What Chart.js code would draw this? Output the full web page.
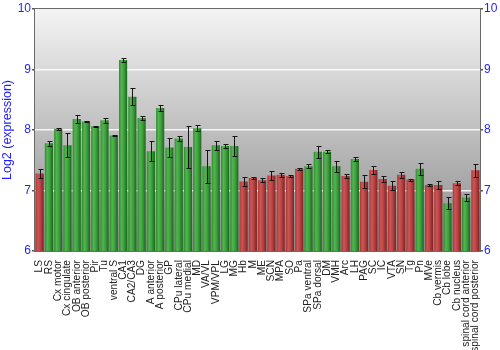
<!DOCTYPE html>
<html>
<head>
<meta charset="utf-8">
<script src="https://cdn.jsdelivr.net/npm/chart.js@4.4.1/dist/chart.umd.min.js"></script>
<style>
  html, body { margin: 0; padding: 0; background: #fff; }
</style>
</head>
<body>
<canvas id="chart" width="500" height="350"></canvas>
<script>
// brain regions, in plot order
const regions = [
  "LS", "RS", "Cx motor", "Cx cingulate", "OB anterior", "OB posterior", "Pir", "Tu",
  "ventral S", "CA1", "CA2/CA3", "DG", "A anterior", "A posterior", "GP", "CPu lateral",
  "CPu medial", "MD", "VA/VL", "VPM/VPL", "LG", "MG", "Hb", "M", "ME", "SCN", "MPA",
  "SO", "Pa", "SPa ventral", "SPa dorsal", "DM", "VMH", "Arc", "LH", "PAG", "SC", "IC",
  "VTA", "SN", "Tg", "Pn", "MVe", "Cb vermis", "Cb lobe", "Cb nucleus",
  "spinal cord anterior", "spinal cord posterior"
];

const expression = [
  7.28, 7.78, 8.02, 7.75, 8.18, 8.14, 8.06, 8.16,
  7.91, 9.155, 8.55, 8.2, 7.65, 8.365, 7.71, 7.86,
  7.72, 8.03, 7.40, 7.75, 7.735, 7.735, 7.15, 7.205, 7.17, 7.25, 7.26,
  7.24, 7.36, 7.40, 7.64, 7.64, 7.40, 7.24, 7.52, 7.145, 7.34, 7.19,
  7.08, 7.26, 7.18, 7.36, 7.09, 7.09, 6.79, 7.12,
  6.885, 7.335
];

const stdErr = [
  0.077, 0.044, 0.02, 0.2, 0.065, 0.015, 0.006, 0.045,
  0.01, 0.035, 0.14, 0.03, 0.16, 0.045, 0.16, 0.045,
  0.35, 0.045, 0.27, 0.075, 0.035, 0.16, 0.08, 0.01, 0.035, 0.075, 0.035,
  0.01, 0.015, 0.035, 0.1, 0.025, 0.09, 0.03, 0.04, 0.105, 0.06, 0.045,
  0.07, 0.05, 0.017, 0.1, 0.01, 0.06, 0.1, 0.035,
  0.06, 0.11
];

// g = green bar, r = red bar
const barKind = [
  "r", "g", "g", "g", "g", "g", "g", "g",
  "g", "g", "g", "g", "g", "g", "g", "g",
  "g", "g", "g", "g", "g", "g", "r", "r", "r", "r", "r",
  "r", "r", "g", "g", "g", "g", "r", "g", "r", "r", "r",
  "r", "r", "r", "g", "r", "r", "g", "r",
  "g", "r"
];

const yTicks = [6, 7, 8, 9, 10];

const shades = {
  g: ["#2f8c2f", "#52b552", "#3da03d", "#1b661b"],
  r: ["#a83636", "#cc5656", "#b84242", "#7c2222"]
};

// grey backdrop inside the plot
const backdrop = {
  id: "backdrop",
  beforeDraw(chart) {
    const { ctx, chartArea: a } = chart;
    ctx.save();
    ctx.fillStyle = "#fff";
    ctx.fillRect(0, 0, chart.width, chart.height);
    const g = ctx.createLinearGradient(0, a.top, 0, a.bottom);
    g.addColorStop(0, "#f4f4f4");
    g.addColorStop(1, "#8a8a8a");
    ctx.fillStyle = g;
    ctx.fillRect(a.left, a.top, a.right - a.left, a.bottom - a.top);
    ctx.restore();
  },
  beforeDatasetsDraw(chart) {
    // cylinder look on each bar
    const ctx = chart.ctx;
    chart.getDatasetMeta(0).data.forEach((bar, i) => {
      const c = shades[barKind[i]];
      const half = bar.width / 2;
      const g = ctx.createLinearGradient(bar.x - half, 0, bar.x + half, 0);
      g.addColorStop(0, c[0]);
      g.addColorStop(0.3, c[1]);
      g.addColorStop(0.6, c[2]);
      g.addColorStop(1, c[3]);
      bar.options.backgroundColor = g;
    });
  },
  afterDatasetsDraw(chart) {
    const { ctx, scales } = chart;
    ctx.save();
    ctx.strokeStyle = "#151515";
    ctx.lineWidth = 1;
    chart.getDatasetMeta(0).data.forEach((bar, i) => {
      const x = Math.round(bar.x) + 0.5;
      const hi = Math.round(scales.y.getPixelForValue(expression[i] + stdErr[i])) + 0.5;
      const lo = Math.round(scales.y.getPixelForValue(expression[i] - stdErr[i])) + 0.5;
      ctx.beginPath();
      ctx.moveTo(x, hi); ctx.lineTo(x, lo);
      ctx.moveTo(x - 2, hi); ctx.lineTo(x + 3, hi);
      ctx.moveTo(x - 2, lo); ctx.lineTo(x + 3, lo);
      ctx.stroke();
    });
    ctx.restore();
  },
  afterDraw(chart) {
    const { ctx, chartArea: a } = chart;
    ctx.save();
    ctx.strokeStyle = "#6a6a6a";
    ctx.lineWidth = 1;
    ctx.strokeRect(Math.round(a.left) - 0.5, Math.round(a.top) - 0.5,
      Math.round(a.right - a.left) + 1, Math.round(a.bottom - a.top) + 1);
    ctx.restore();
  }
};

const blue = "#1f1fff";
const font = "'Liberation Sans', Arial, sans-serif";

const yScale = (pos) => ({
  position: pos,
  min: yTicks[0],
  max: yTicks[yTicks.length - 1],
  afterBuildTicks: (s) => { s.ticks = yTicks.map(v => ({ value: v })); },
  afterFit: (s) => { s.width = pos === "left" ? 35 : 20; },
  border: { display: false },
  grid: {
    drawOnChartArea: pos === "left",
    color: (c) => (c.tick && c.tick.value > 6 && c.tick.value < 10) ? "rgba(255,255,255,0.85)" : "rgba(0,0,0,0)",
    lineWidth: 1.5,
    tickColor: "#555",
    tickLength: 3
  },
  ticks: { color: blue, font: { family: font, size: 12 }, padding: 1 },
  title: pos === "left"
    ? { display: true, text: "Log2 (expression)", color: blue, font: { family: font, size: 12.5 }, padding: 0 }
    : { display: false }
});

new Chart(document.getElementById("chart"), {
  type: "bar",
  data: {
    labels: regions,
    datasets: [{
      data: expression,
      backgroundColor: barKind.map(k => shades[k][2]),
      borderWidth: 0,
      barPercentage: 0.88,
      categoryPercentage: 1
    }]
  },
  options: {
    responsive: false,
    animation: false,
    layout: { padding: { top: 9, left: 0, right: 0, bottom: 0 } },
    plugins: { legend: { display: false }, tooltip: { enabled: false } },
    scales: {
      x: {
        afterFit: (s) => { s.height = 99; },
        border: { display: false },
        grid: { display: false },
        ticks: {
          autoSkip: false,
          minRotation: 90,
          maxRotation: 90,
          padding: 1,
          color: "#222",
          font: { family: font, size: 10.2 }
        }
      },
      y: yScale("left"),
      y2: yScale("right")
    }
  },
  plugins: [backdrop]
});
</script>
</body>
</html>
